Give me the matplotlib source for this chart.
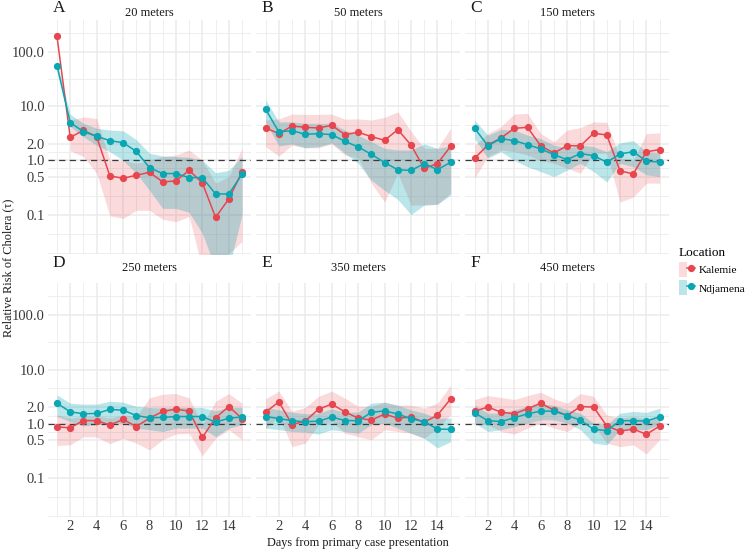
import numpy as np
import matplotlib
matplotlib.use("Agg")
import matplotlib.pyplot as plt
from matplotlib.lines import Line2D
from matplotlib.patches import Patch
from matplotlib.legend_handler import HandlerTuple

plt.rcParams['font.family'] = ['Liberation Serif', 'DejaVu Serif']

nan = np.nan
days = np.arange(1, 16)
tags = ['A', 'B', 'C', 'D', 'E', 'F']
distances = ['20 meters', '50 meters', '150 meters', '250 meters', '350 meters', '450 meters']
locations = ['Kalemie', 'Ndjamena']
y_breaks = [0.1, 0.5, 1, 2, 10, 100]
y_labels = ['0.1', '0.5', '1.0', '2.0', '10.0', '100.0']
x_breaks = [2, 4, 6, 8, 10, 12, 14]

# Kalemie: estimate, lower, upper (one row per panel A-F)
kal_rr = [
    [191, 2.65, 3.56, 2.73, 0.515, 0.467, 0.53, 0.60, 0.40, 0.417, 0.655, 0.383, 0.089, 0.194, 0.61],
    [3.94, 3.10, 4.28, 4.05, 3.94, 4.41, 2.97, 3.28, 2.73, 2.33, 3.67, 1.91, 0.71, 0.87, 1.81],
    [1.09, 1.91, 2.58, 3.88, 4.05, 1.84, 1.36, 1.86, 1.84, 3.14, 2.93, 0.64, 0.56, 1.44, 1.57],
    [0.88, 0.84, 1.15, 1.14, 0.95, 1.20, 0.89, 1.27, 1.69, 1.86, 1.71, 0.56, 1.29, 2.08, 1.25],
    [1.64, 2.54, 0.97, 1.12, 1.86, 2.30, 1.66, 1.27, 1.17, 1.51, 1.27, 1.33, 1.07, 1.44, 2.88],
    [1.71, 2.03, 1.64, 1.53, 1.89, 2.40, 1.78, 1.42, 2.08, 2.03, 0.91, 0.73, 0.80, 0.64, 0.91],
]
kal_lo = [
    [nan, 1.5, 1.17, 0.58, 0.095, 0.085, 0.12, 0.12, 0.082, 0.074, 0.092, 0.01, 0.01, 0.019, 0.032],
    [1.78, 1.2, 1.9, 1.7, 1.7, 2.0, 1.25, 1.09, 0.38, 0.17, 0.58, 0.15, 0.15, 0.155, 0.25],
    [0.47, 1.17, 1.55, 1.44, 1.25, 1.0, 0.88, 0.71, 0.58, 1.35, 1.35, 0.17, 0.21, 0.38, 0.38],
    [0.40, 0.41, 0.58, 0.57, 0.43, 0.54, 0.44, 0.33, 0.51, 0.65, 0.67, 0.26, 0.54, 0.78, 0.51],
    [0.83, 1.36, 0.38, 0.44, 0.96, 1.1, 0.67, 0.58, 0.51, 0.78, 0.72, 0.67, 0.54, 0.83, 1.46],
    [0.96, 0.96, 0.72, 0.65, 0.83, 1.03, 0.83, 0.72, 1.03, 0.96, 0.44, 0.38, 0.41, 0.28, 0.51],
]
kal_hi = [
    [nan, 5.5, 6.3, 5.9, 1.0, 1.0, 0.88, 1.0, 1.17, 1.25, 1.55, 1.0, 0.38, 0.50, 1.66],
    [5.5, 5.8, 7.1, 7.0, 7.0, 7.1, 5.7, 5.8, 5.5, 6.2, 7.8, 3.4, 1.66, 1.66, 3.9],
    [1.9, 3.1, 4.2, 7.1, 7.3, 3.1, 2.2, 3.6, 4.0, 5.1, 5.0, 1.09, 1.0, 3.1, 3.2],
    [1.46, 1.27, 1.36, 1.42, 1.27, 1.46, 1.36, 3.0, 3.5, 3.6, 3.0, 0.96, 2.6, 3.6, 2.4],
    [2.9, 4.0, 1.69, 2.0, 3.2, 4.0, 2.96, 2.1, 2.1, 2.5, 2.2, 2.2, 1.94, 2.4, 5.1],
    [2.8, 3.3, 3.05, 2.8, 3.3, 3.8, 2.9, 2.4, 3.6, 3.2, 1.46, 1.27, 1.36, 1.24, 1.3],
]

# Ndjamena
ndj_rr = [
    [55, 4.93, 3.37, 2.77, 2.30, 2.11, 1.46, 0.73, 0.57, 0.57, 0.48, 0.48, 0.24, 0.24, 0.55],
    [8.7, 3.32, 3.52, 3.01, 3.10, 2.97, 2.24, 1.76, 1.29, 0.91, 0.67, 0.65, 0.87, 0.67, 0.92],
    [3.88, 1.86, 2.50, 2.30, 1.94, 1.62, 1.27, 1.03, 1.33, 1.22, 0.92, 1.31, 1.44, 0.96, 0.93],
    [2.40, 1.66, 1.53, 1.55, 1.84, 1.78, 1.42, 1.29, 1.31, 1.36, 1.36, 1.36, 1.07, 1.27, 1.33],
    [1.36, 1.25, 1.14, 1.09, 1.12, 1.33, 1.15, 1.14, 1.62, 1.73, 1.51, 1.24, 1.09, 0.80, 0.79],
    [1.59, 1.14, 1.10, 1.29, 1.53, 1.71, 1.71, 1.42, 1.17, 0.79, 0.75, 1.14, 1.14, 1.12, 1.35],
]
ndj_lo = [
    [49, 4.2, 2.7, 1.9, 1.44, 1.0, 0.58, 0.28, 0.13, 0.13, 0.11, 0.045, 0.01, 0.01, 0.1],
    [5.0, 1.84, 2.0, 1.7, 1.78, 2.1, 1.35, 0.88, 0.43, 0.28, 0.19, 0.10, 0.15, 0.155, 0.23],
    [2.5, 1.09, 1.44, 1.0, 0.76, 0.62, 0.5, 0.66, 0.88, 0.62, 0.40, 0.88, 0.76, 0.54, 0.5],
    [1.36, 1.1, 0.92, 0.96, 1.03, 1.03, 0.83, 0.78, 0.72, 0.83, 0.83, 0.83, 0.58, 0.83, 0.96],
    [0.83, 0.78, 0.72, 0.70, 0.65, 0.78, 0.72, 0.67, 0.96, 1.03, 0.83, 0.67, 0.54, 0.36, 0.47],
    [1.03, 0.72, 0.78, 0.89, 1.03, 1.18, 1.18, 1.03, 0.78, 0.44, 0.41, 0.78, 0.78, 0.78, 0.96],
]
ndj_hi = [
    [65, 7.0, 4.8, 3.9, 3.6, 3.5, 2.4, 1.35, 1.2, 1.17, 1.14, 1.0, 0.59, 0.65, 1.17],
    [12.9, 5.1, 5.1, 4.8, 4.8, 4.8, 3.6, 2.9, 2.2, 1.66, 1.55, 1.55, 2.0, 1.66, 1.84],
    [5.5, 2.9, 3.7, 3.6, 2.9, 2.5, 1.9, 1.66, 1.9, 1.78, 1.44, 2.1, 2.3, 1.44, 1.35],
    [3.4, 2.4, 2.3, 2.3, 2.6, 2.5, 2.1, 2.0, 1.94, 2.0, 2.0, 2.0, 1.73, 2.0, 2.0],
    [2.0, 1.81, 1.64, 1.53, 1.57, 1.89, 1.64, 1.64, 2.4, 2.5, 2.2, 1.81, 1.57, 1.27, 1.27],
    [2.2, 1.57, 1.57, 1.81, 2.1, 2.3, 2.2, 1.81, 1.57, 1.03, 0.96, 1.57, 1.69, 1.62, 1.94],
]

red = '#E8464F'
cyan = '#0AA6B2'
grid_col = '#EBEBEB'
W, H = 749, 551

# ggplot-style minor breaks on log scale: midpoints between majors,
# extended one step beyond each end
lb = np.log10(y_breaks)
step = lb[1] - lb[0]
ext = np.concatenate([[lb[0] - step], lb, [lb[-1] + step]])
y_minor = 10 ** np.concatenate([(ext[:-1] + ext[1:]) / 2, [ext[0]]])

fig = plt.figure(figsize=(W / 100, H / 100), dpi=100)

col_left = [47.75, 256.4, 465.4]
panel_w = 203.5
row_top = [19.5, 283.0]
panel_h = 234.0

for i in range(6):
    r, c = divmod(i, 3)
    x0, y0 = col_left[c], row_top[r]
    ax = fig.add_axes([x0 / W, 1 - (y0 + panel_h) / H, panel_w / W, panel_h / H])
    ax.set_yscale('log')
    ax.set_xlim(0.3, 15.7)
    ax.set_ylim(0.0192, 392)
    for s in ax.spines.values():
        s.set_visible(False)

    for yv in y_minor:
        ax.axhline(yv, color=grid_col, lw=0.6, zorder=0)
    for yv in y_breaks:
        ax.axhline(yv, color=grid_col, lw=1.1, zorder=0)
    for xv in days[::2]:
        ax.axvline(xv, color=grid_col, lw=0.6, zorder=0)
    for xv in x_breaks:
        ax.axvline(xv, color=grid_col, lw=1.1, zorder=0)

    ax.fill_between(days, kal_lo[i], kal_hi[i], color=red, alpha=0.2, lw=0, zorder=1)
    ax.fill_between(days, ndj_lo[i], ndj_hi[i], color=cyan, alpha=0.28, lw=0, zorder=1)
    ax.axhline(1, color='#3A3A3A', lw=0.9, ls=(0, (5, 3.5)), zorder=2)
    ax.plot(days, kal_rr[i], color=red, lw=1.1, marker='o', ms=4.2, zorder=3)
    ax.plot(days, ndj_rr[i], color=cyan, lw=1.1, marker='o', ms=4.2, zorder=3)

    ax.set_yticks(y_breaks)
    ax.set_yticks([], minor=True)
    ax.set_xticks(x_breaks)
    ax.tick_params(length=0, labelsize=10.5, colors='#3A3A3A', pad=2)
    if c == 0:
        ax.set_yticklabels(y_labels)
    else:
        ax.set_yticklabels([])
    if r == 1:
        ax.set_xticklabels([str(v) for v in x_breaks])
    else:
        ax.set_xticklabels([])

    base = 15.5 if r == 0 else 270.5
    fig.text((x0 + panel_w / 2) / W, 1 - base / H, distances[i], ha='center',
             va='baseline', fontsize=9, color='#1A1A1A')
    fig.text((x0 + 5) / W, 1 - (base - 3) / H, tags[i], ha='left',
             va='baseline', fontsize=12.5, color='#1A1A1A')

fig.text(8 / W, 1 - 268 / H, 'Relative Risk of Cholera (τ)', rotation=90,
         ha='center', va='center', fontsize=8.8, color='#1A1A1A')
fig.text(358 / W, 1 - 543 / H, 'Days from primary case presentation',
         ha='center', va='center', fontsize=8.8, color='#1A1A1A')

handles = []
for col, a in [(red, 0.2), (cyan, 0.28)]:
    handles.append((Patch(facecolor=col, alpha=a, edgecolor='none'),
                    Line2D([], [], color=col, lw=1.1, marker='o', ms=4.2)))
fig.legend(handles, locations, handler_map={tuple: HandlerTuple(ndivide=None, pad=0)},
           title='Location', loc='upper left', bbox_to_anchor=(679 / W, 1 - 247 / H),
           frameon=False, fontsize=8.2, title_fontsize=9.5, alignment='left',
           borderpad=0, borderaxespad=0, handlelength=1.4, handleheight=1.6,
           handletextpad=0.35, labelspacing=0.3)

fig.savefig('out.png', dpi=100, facecolor='white')
